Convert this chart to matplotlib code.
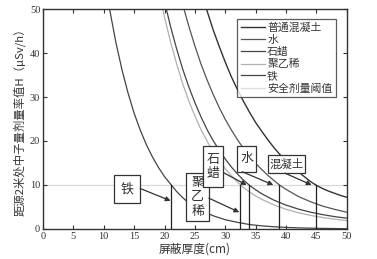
import matplotlib
matplotlib.use('Agg')
import matplotlib.pyplot as plt
from matplotlib.patches import Rectangle

plt.rcParams['font.family'] = ['Noto Sans CJK SC', 'DejaVu Sans']

# ---- data ----
concrete_x = [26.9, 28, 29, 30, 31, 32, 33, 34, 35, 36, 37, 38, 39, 40, 41, 42, 43, 44, 45, 46, 47, 48, 49, 50]
concrete_y = [50, 45.3, 41.5, 37.9, 34.6, 31.7, 29.0, 26.5, 24.2, 22.2, 20.3, 18.5, 16.9, 15.5, 14.2, 13.0, 11.9, 10.8, 9.9, 9.2, 8.6, 8.1, 7.6, 7.2]

water_x = [23.2, 24, 25, 26, 27, 28, 29, 30, 31, 32, 33, 34, 35, 36, 37, 38, 39, 40, 42, 44, 46, 48, 50]
water_y = [50, 46.1, 41.6, 37.5, 33.9, 30.6, 27.6, 24.9, 22.5, 20.3, 18.3, 16.5, 14.9, 13.5, 12.2, 11.0, 9.9, 9.0, 7.4, 6.2, 5.2, 4.45, 3.8]

paraffin_x = [20.3, 21, 22, 23, 24, 25, 26, 27, 28, 29, 30, 31, 32, 33, 34, 35, 36, 38, 40, 42, 44, 46, 48, 50]
paraffin_y = [50, 46.0, 40.9, 36.3, 32.3, 28.7, 25.5, 22.6, 20.1, 17.9, 15.9, 14.1, 12.5, 11.1, 9.9, 8.9, 8.0, 6.55, 5.42, 4.53, 3.82, 3.26, 2.8, 2.45]

pe_x = [19.7, 20, 21, 22, 23, 24, 25, 26, 27, 28, 29, 30, 31, 32, 33, 34, 35, 36, 38, 40, 42, 44, 46, 48, 50]
pe_y = [50, 48.1, 42.5, 37.5, 33.0, 29.1, 25.7, 22.6, 20.0, 17.6, 15.5, 13.7, 12.1, 10.7, 9.4, 8.4, 7.5, 6.74, 5.46, 4.47, 3.7, 3.09, 2.6, 2.22, 1.9]

iron_x = [11, 12, 13, 14, 15, 16, 17, 18, 19, 20, 21, 22, 23, 24, 25, 26, 28, 30, 32, 34, 36, 38, 40, 42, 45, 50]
iron_y = [49.7, 42.4, 36.2, 30.9, 26.3, 22.5, 19.2, 16.4, 14.0, 11.9, 10.2, 8.5, 7.1, 5.9, 5.0, 4.2, 3.0, 2.1, 1.5, 1.0, 0.7, 0.5, 0.35, 0.25, 0.15, 0.05]

threshold = 10
cross_x = [21.1, 32.5, 33.9, 38.9, 44.9]          # iron, PE, paraffin, water, concrete
tip_y = [6.4, 3.8, 10, 10, 10]

legend_labels = ['普通混凝土', '水', '石蜡', '聚乙稀', '铁', '安全剂量阈值']
box_texts = ['铁', '聚\n乙\n稀', '石\n蜡', '水', '混凝土']

# ---- layout (annotation boxes, arrow starts, arrow tips x) ----
boxes = [(11.7, 6.0, 16.0, 12.3), (23.6, 1.9, 27.3, 12.7), (26.3, 9.5, 29.7, 18.9),
         (32.0, 13.0, 35.0, 18.9), (37.1, 12.7, 43.1, 16.8)]
box_font = [9.3, 9.3, 9.3, 9.3, 8.2]
arrow_start = [(16.0, 9.2), (27.3, 7.0), (29.7, 12.8), (32.8, 13.0), (39.8, 12.7)]
tip_x = [21.0, 32.3, 33.5, 37.9, 44.2]

fig = plt.figure(figsize=(3.77, 2.59), dpi=100)
ax = fig.add_axes([0.114, 0.116, 0.806, 0.849])

ax.axhline(threshold, color='#d8d8d8', lw=0.9, zorder=1)
l1, = ax.plot(concrete_x, concrete_y, color='#333333', lw=1.0, zorder=2)
l2, = ax.plot(water_x, water_y, color='#555555', lw=0.9, zorder=2)
l3, = ax.plot(paraffin_x, paraffin_y, color='#444444', lw=0.9, zorder=2)
l4, = ax.plot(pe_x, pe_y, color='#b0b0b0', lw=0.9, zorder=2)
l5, = ax.plot(iron_x, iron_y, color='#444444', lw=0.9, zorder=2)
l0, = ax.plot([], [], color='#dddddd', lw=0.9)

for cx in cross_x:
    ax.plot([cx, cx], [0, threshold], color='#222222', lw=0.9, zorder=3)

order = [0, 1, 2, 4, 3]  # draw PE box before paraffin box
for i in order:
    x0, y0, x1, y1 = boxes[i]
    ax.add_patch(Rectangle((x0, y0), x1 - x0, y1 - y0, facecolor='white',
                           edgecolor='#333333', lw=0.9, zorder=5 + order.index(i) * 0.1))
    ax.text((x0 + x1) / 2, (y0 + y1) / 2, box_texts[i], ha='center', va='center',
            fontsize=box_font[i], color='#333333', linespacing=1.15,
            zorder=5.05 + order.index(i) * 0.1)

for (sx, sy), tx, ty in zip(arrow_start, tip_x, tip_y):
    ax.annotate('', xy=(tx, ty), xytext=(sx, sy),
                arrowprops=dict(arrowstyle='-|>', color='#333333', lw=0.9,
                                mutation_scale=7, shrinkA=0, shrinkB=0), zorder=6)

ax.set_xlim(0, 50)
ax.set_ylim(0, 50)
ax.set_xticks(range(0, 51, 5))
ax.set_yticks(range(0, 51, 10))
ax.tick_params(direction='in', top=True, right=True, length=3, width=0.8,
               labelsize=7.5, colors='#333333', pad=2)
for lab in ax.get_xticklabels() + ax.get_yticklabels():
    lab.set_family('Liberation Serif')
for s in ax.spines.values():
    s.set_linewidth(1.0)
    s.set_color('#333333')

ax.set_xlabel('屏蔽厚度(cm)', fontsize=8.5, color='#333333', labelpad=1)
ax.set_ylabel('距源2米处中子量剂量率值H（μSv/h）', fontsize=8.2, color='#333333', labelpad=3)

leg = ax.legend([l1, l2, l3, l4, l5, l0], legend_labels, loc='upper right',
                bbox_to_anchor=(0.965, 0.955), fontsize=7.8, frameon=True, fancybox=False,
                edgecolor='#333333', handlelength=2.2, handletextpad=0.2,
                labelspacing=0.18, borderpad=0.35, borderaxespad=0)
leg.get_frame().set_linewidth(0.9)
for t in leg.get_texts():
    t.set_color('#333333')
leg.set_zorder(10)

fig.savefig('out.png', dpi=100)
